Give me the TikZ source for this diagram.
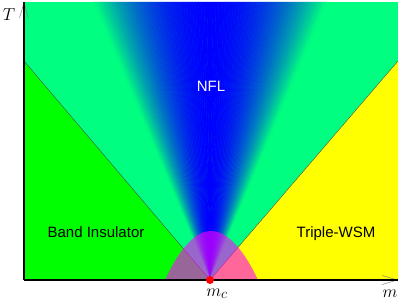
\documentclass[tikz,border=0pt]{standalone}
\usepackage{fontspec}
\setmainfont{Liberation Sans}
\usetikzlibrary{arrows.meta}
\definecolor{phaseGreen}{HTML}{00FF00}
\definecolor{nflGreen}{HTML}{00FF80}
\definecolor{wsmYellow}{HTML}{FFFF00}
\definecolor{nflBlue}{HTML}{0000FF}
\definecolor{domeMagenta}{HTML}{FF00FF}

\begin{document}
\begin{tikzpicture}[x=1pt, y=1pt,
    lbl/.style={font=\fontsize{15}{18}\selectfont, inner sep=0pt, anchor=base},
    axlbl/.style={font=\fontsize{19}{22}\selectfont, inner sep=0pt, anchor=base},
    axisline/.style={line width=1.2pt, black},
    axistip/.style={gray, line width=0.5pt, -{Straight Barb[length=15pt, width=9pt]}},
    border/.style={line width=0.4pt, black!70},
  ]
    \useasboundingbox (0,0) rectangle (402,301);

    % Puntos clave
    \coordinate (O) at (24,21);
    \coordinate (mc) at (210,21);
    \coordinate (ytop) at (24,299);
    \coordinate (xend) at (398,21);
    \coordinate (bl) at (24,240);
    \coordinate (br) at (398,240);

    % Fases de fondo
    \fill[nflGreen] (O) rectangle (398,299);
    \fill[phaseGreen] (O) -- (bl) -- (mc) -- cycle;
    \fill[wsmYellow] (mc) -- (br) -- (xend) -- cycle;

    % Abanico NFL
    \foreach \i in {1,...,40} {
      \pgfmathsetmacro{\ta}{(\i-1)/40}
      \pgfmathsetmacro{\tb}{\i/40}
      \pgfmathsetmacro{\pct}{100*(1-((\i-0.5)/40)^2)}
      \filldraw[nflBlue!\pct!nflGreen, line width=0.4pt]
        (mc) -- (210+117*\ta,299) -- (210+117*\tb,299) -- cycle;
      \filldraw[nflBlue!\pct!nflGreen, line width=0.4pt]
        (mc) -- (210-117*\ta,299) -- (210-117*\tb,299) -- cycle;
    }

    % Fronteras
    \draw[border] (bl) -- (mc) -- (br);

    % Domo
    \fill[domeMagenta, opacity=0.6] (165,21) parabola bend (211,70) (258,21) -- cycle;

    % Ejes
    \draw[axistip] (O) -- (ytop);
    \draw[axistip] (O) -- (xend);
    \draw[axisline] (O) -- (ytop);
    \draw[axisline] (O) -- (xend);
    \node[circle, fill=red, inner sep=0pt, minimum size=8pt] (mcdot) at (mc) {};

    % Etiquetas
    \node[lbl, text=white] (nfl) at (211,210) {NFL};
    \node[lbl] (bi) at (96,64) {Band Insulator};
    \node[lbl] (wsm) at (336,64) {Triple-WSM};
    \node[axlbl] (tlab) at (9,281) {$T$};
    \node[axlbl] (mclab) at (217,5) {$m_c$};
    \node[axlbl] (mlab) at (390,4) {$m$};
  \end{tikzpicture}
\end{document}
